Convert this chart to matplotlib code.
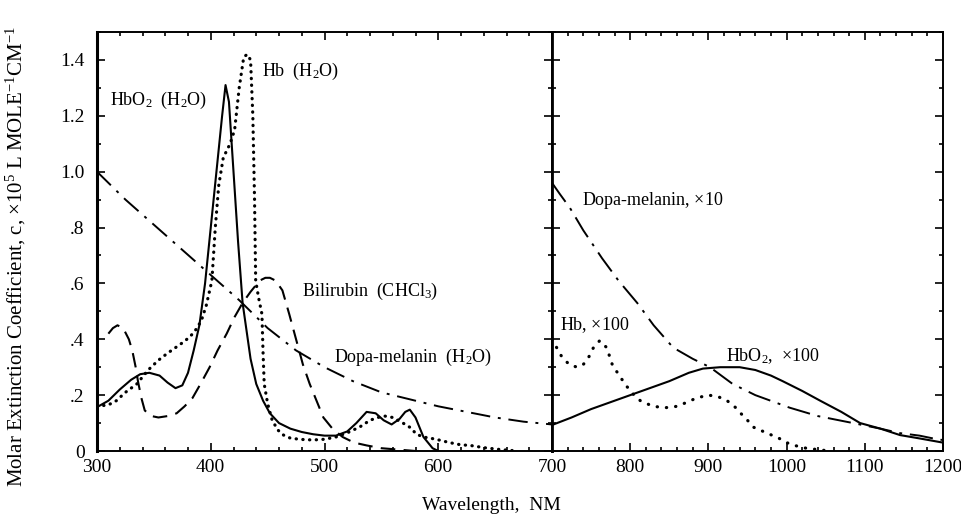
import matplotlib.pyplot as plt
from matplotlib.ticker import MultipleLocator, FixedLocator

plt.rcParams["font.family"] = ["Liberation Serif", "DejaVu Serif"]
plt.rcParams["mathtext.fontset"] = "custom"
plt.rcParams["mathtext.rm"] = "Liberation Serif"
plt.rcParams["mathtext.it"] = "Liberation Serif:italic"

# ---- left panel, 300-700 nm ----
hbo2_wl = [300, 310, 320, 330, 338, 346, 355, 362, 369, 375, 380, 385, 390, 395,
           400, 405, 410, 413, 416, 420, 424, 428, 435, 440, 446, 452, 460, 470,
           480, 490, 500, 510, 520, 528, 537, 545, 552, 559, 566, 571, 575, 580,
           587, 595, 600]
hbo2_val = [0.157, 0.18, 0.22, 0.255, 0.275, 0.28, 0.27, 0.245, 0.225, 0.235,
            0.28, 0.36, 0.45, 0.6, 0.8, 1.0, 1.2, 1.31, 1.25, 1.0, 0.75, 0.53,
            0.33, 0.24, 0.18, 0.135, 0.10, 0.08, 0.068, 0.06, 0.055, 0.055,
            0.07, 0.1, 0.14, 0.135, 0.11, 0.095, 0.115, 0.14, 0.148, 0.12, 0.05,
            0.01, 0.0]

hb_wl = [300, 310, 317, 325, 335, 345, 354, 362, 369, 376, 382, 388, 392, 396,
         401, 404, 407, 411, 417, 421, 425, 429, 432, 435, 437, 438.5, 439.5,
         442, 445, 446, 447, 450, 454, 459, 464, 470, 478, 485, 492, 500, 510,
         520, 531, 540, 547, 553, 560, 569, 575, 581, 587, 593, 600, 610, 620,
         628, 640, 655, 670]
hb_val = [0.16, 0.165, 0.18, 0.21, 0.24, 0.29, 0.325, 0.35, 0.37, 0.39, 0.41,
          0.44, 0.47, 0.52, 0.61, 0.8, 0.95, 1.05, 1.1, 1.15, 1.3, 1.41, 1.42,
          1.4, 1.2, 0.9, 0.61, 0.55, 0.49, 0.35, 0.24, 0.17, 0.11, 0.075, 0.057,
          0.046, 0.042, 0.04, 0.04, 0.042, 0.05, 0.065, 0.086, 0.11, 0.12, 0.125,
          0.12, 0.10, 0.085, 0.06, 0.05, 0.046, 0.04, 0.03, 0.022, 0.02, 0.012,
          0.005, 0.0]

bili_wl = [310, 314, 318, 323, 328, 331, 334, 336, 339, 342, 348, 354, 362, 370,
           377, 384, 391, 399, 406, 414, 421, 428, 435, 443, 448, 452, 457, 463,
           469, 476, 481, 487, 493, 499, 507, 516, 526, 537, 550, 565, 580]
bili_val = [0.42, 0.44, 0.45, 0.44, 0.40, 0.36, 0.30, 0.25, 0.19, 0.145, 0.125,
            0.12, 0.125, 0.135, 0.16, 0.19, 0.24, 0.30, 0.36, 0.42, 0.48, 0.53,
            0.57, 0.61, 0.62, 0.62, 0.61, 0.575, 0.49, 0.385, 0.31, 0.24, 0.18,
            0.12, 0.08, 0.05, 0.03, 0.02, 0.01, 0.005, 0.0]

dopa_wl = [300, 325, 350, 375, 400, 425, 450, 475, 500, 525, 550, 575, 600,
           625, 650, 675, 700]
dopa_val = [1.0, 0.9, 0.81, 0.72, 0.63, 0.54, 0.44, 0.36, 0.30, 0.25, 0.21,
            0.185, 0.16, 0.14, 0.12, 0.105, 0.095]

# ---- right panel, 700-1200 nm (scaled) ----
dopa10_wl = [700, 710, 723, 740, 764, 785, 809, 830, 855, 880, 902, 931, 960,
             1004, 1040, 1085, 1120, 1145, 1170, 1196, 1200]
dopa10_val = [0.96, 0.92, 0.87, 0.79, 0.69, 0.61, 0.53, 0.45, 0.37, 0.33, 0.30,
              0.24, 0.20, 0.155, 0.125, 0.10, 0.08, 0.064, 0.055, 0.04, 0.04]

hbo2_100_wl = [700, 725, 750, 775, 800, 825, 850, 875, 893, 915, 940, 960, 980,
               995, 1020, 1043, 1070, 1094, 1120, 1145, 1170, 1196, 1200]
hbo2_100_val = [0.093, 0.12, 0.15, 0.175, 0.20, 0.225, 0.25, 0.28, 0.295, 0.30,
                0.30, 0.29, 0.27, 0.25, 0.215, 0.18, 0.14, 0.10, 0.08, 0.057,
                0.045, 0.032, 0.03]

hb_100_wl = [700, 706, 713, 722, 732, 740, 745, 753, 761, 770, 777, 786, 796,
             805, 813, 829, 845, 860, 873, 885, 900, 912, 924, 935, 943, 950,
             957, 966, 975, 990, 1000, 1010, 1025, 1040, 1055]
hb_100_val = [0.40, 0.37, 0.335, 0.31, 0.30, 0.31, 0.325, 0.37, 0.395, 0.37,
              0.31, 0.27, 0.23, 0.20, 0.18, 0.16, 0.155, 0.16, 0.175, 0.19,
              0.20, 0.195, 0.18, 0.155, 0.13, 0.11, 0.086, 0.075, 0.064, 0.046,
              0.03, 0.02, 0.01, 0.005, 0.0]

y_ticks = [0, 0.2, 0.4, 0.6, 0.8, 1.0, 1.2, 1.4]
y_labels = ["0", ".2", ".4", ".6", ".8", "1.0", "1.2", "1.4"]

fig = plt.figure(figsize=(9.61, 5.14), dpi=100)
b, h = 63 / 514, 419 / 514
ax1 = fig.add_axes([97 / 961, b, 455 / 961, h])
ax2 = fig.add_axes([552 / 961, b, 391 / 961, h], sharey=ax1)

solid = dict(color="black", lw=1.5)
dotted = dict(color="black", lw=2.3, linestyle=(0, (0.1, 2.0)),
              dash_capstyle="round")
dashed = dict(color="black", lw=1.5, linestyle=(0, (7, 4)))
dashdot = dict(color="black", lw=1.4, linestyle=(0, (10, 4, 1.5, 4)))

ax1.plot(hbo2_wl, hbo2_val, **solid)
ax1.plot(hb_wl, hb_val, **dotted)
ax1.plot(bili_wl, bili_val, **dashed)
ax1.plot(dopa_wl, dopa_val, **dashdot)

ax2.plot(hbo2_100_wl, hbo2_100_val, **solid)
ax2.plot(hb_100_wl, hb_100_val, color="black", lw=2.3,
         linestyle=(0, (0.1, 2.8)), dash_capstyle="round")
ax2.plot(dopa10_wl, dopa10_val, color="black", lw=1.4,
         linestyle=(0, (12, 4, 1.5, 4)))

ax1.set_xlim(300, 700)
ax2.set_xlim(700, 1200)
ax1.set_ylim(0, 1.5)

ax1.set_xticks([300, 400, 500, 600, 700])
ax1.set_xticklabels(["300", "400", "500", "600", ""])
ax1.xaxis.set_minor_locator(MultipleLocator(20))
ax2.set_xticks([700, 800, 900, 1000, 1100, 1200])
ax2.set_xticklabels(["700", "800", "900", "1000", "1100", "1200"])
ax2.xaxis.set_minor_locator(MultipleLocator(20))

ax1.yaxis.set_major_locator(FixedLocator(y_ticks))
ax1.set_yticklabels(y_labels)
ax1.yaxis.set_minor_locator(MultipleLocator(0.1))

for ax in (ax1, ax2):
    ax.tick_params(which="both", direction="in", top=True, right=True,
                   labelsize=14, width=1.2)
    ax.tick_params(which="major", length=6)
    ax.tick_params(which="minor", length=3)
    ax.tick_params(axis="x", pad=6)
    for s in ax.spines.values():
        s.set_linewidth(1.4)
ax1.tick_params(axis="y", pad=9)
ax2.tick_params(axis="y", labelleft=False)
ax1.spines["left"].set_linewidth(2.2)
ax1.spines["right"].set_linewidth(2.0)
ax2.spines["left"].set_linewidth(2.0)

fs = 13
ax1.text(311, 1.255, r"HbO$_2$  (H$_2$O)", fontsize=fs, ha="left", va="center")
ax1.text(445, 1.36, r"Hb  (H$_2$O)", fontsize=fs, ha="left", va="center")
ax1.text(480, 0.57, r"Bilirubin  (CHCl$_3$)", fontsize=fs, ha="left",
         va="center")
ax1.text(508, 0.335, r"Dopa-melanin  (H$_2$O)", fontsize=fs, ha="left",
         va="center")
ax2.text(739, 0.895, r"Dopa-melanin, $\times$10", fontsize=fs, ha="left",
         va="center")
ax2.text(710, 0.45, r"Hb, $\times$100", fontsize=fs, ha="left", va="center")
ax2.text(922, 0.34, r"HbO$_2$,  $\times$100", fontsize=fs, ha="left",
         va="center")

fig.text(491 / 961, 9 / 514, "Wavelength,  NM", fontsize=14, ha="center",
         va="center")
fig.text(16 / 961, 258 / 514,
         r"Molar Extinction Coefficient, c, $\times$10$^5$ L MOLE$^{-1}$CM$^{-1}$",
         fontsize=15, rotation=90, ha="center", va="center")

fig.savefig("out.png", dpi=100)
